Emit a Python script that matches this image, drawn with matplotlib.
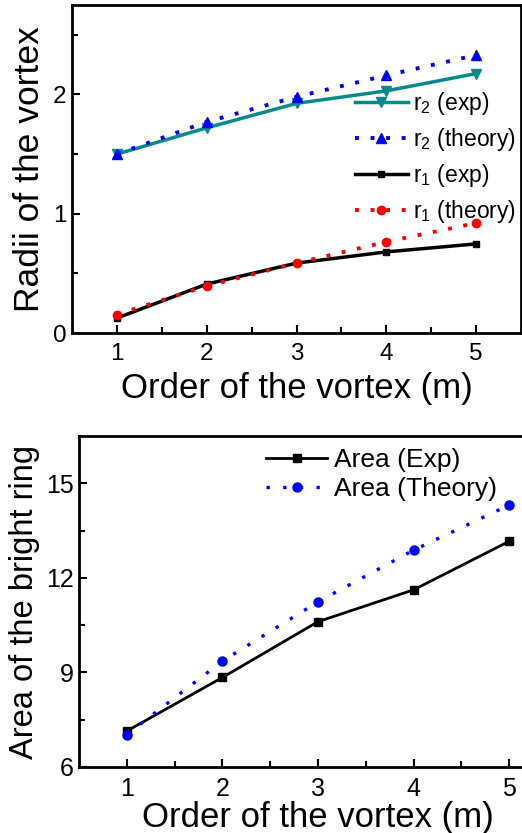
import matplotlib
matplotlib.use("Agg")
import matplotlib.pyplot as plt

plt.rcParams['font.family'] = ['Liberation Sans', 'DejaVu Sans']
plt.rcParams['mathtext.fontset'] = 'custom'
plt.rcParams['mathtext.rm'] = 'Liberation Sans'

# vortex order
m = [1, 2, 3, 4, 5]

# radii (top panel)
r2_exp = [1.50, 1.72, 1.925, 2.03, 2.175]
r2_theory = [1.50, 1.77, 1.98, 2.16, 2.33]
r1_exp = [0.125, 0.41, 0.586, 0.68, 0.747]
r1_theory = [0.155, 0.394, 0.586, 0.764, 0.922]

# bright ring area (bottom panel)
area_exp = [7.14, 8.84, 10.61, 11.62, 13.16]
area_theory = [7.03, 9.36, 11.24, 12.88, 14.31]

W, H = 522, 833
fig = plt.figure(figsize=(W / 100, H / 100), dpi=100)


def style_axes(ax, fs):
    for s in ax.spines.values():
        s.set_linewidth(2)
    ax.tick_params(which='both', direction='in', width=1.5, labelsize=fs, pad=4)
    ax.tick_params(axis='x', which='both', pad=7)
    ax.tick_params(which='major', length=6)
    ax.tick_params(which='minor', length=4)
    ax.tick_params(top=False, right=False, which='both')


# ---- top panel: radii ----
ax1 = fig.add_axes([72 / W, (H - 333) / H, 449 / W, 328 / H])
ax1.plot(m, r2_exp, '-', color='#088a8a', lw=2.5, marker='v', ms=7,
         label=r'r$_2$ (exp)')
ax1.plot(m, r2_theory, linestyle=(0, (1, 3)), color='#0000ff', lw=2.8,
         marker='^', ms=7, label=r'r$_2$ (theory)')
ax1.plot(m, r1_exp, '-', color='black', lw=2.5, marker='s', ms=5,
         label=r'r$_1$ (exp)')
ax1.plot(m, r1_theory, linestyle=(0, (1, 3)), color='#ff0000', lw=2.8,
         marker='o', ms=6, label=r'r$_1$ (theory)')
ax1.set_xlim(0.5, 5.5)
ax1.set_ylim(0, 2.75)
ax1.set_xticks(m)
ax1.set_xticks([1.5, 2.5, 3.5, 4.5], minor=True)
ax1.set_yticks([0, 1, 2])
ax1.set_yticks([0.5, 1.5, 2.5], minor=True)
style_axes(ax1, 17.5)
ax1.set_xlabel('Order of the vortex (m)', fontsize=25, labelpad=5)
ax1.set_ylabel('Radii of the vortex', fontsize=25.5, labelpad=5)
ax1.legend(loc='upper left', bbox_to_anchor=(0.61, 0.77), frameon=False,
           fontsize=16.5, handlelength=2.3, handletextpad=0.25,
           labelspacing=0.4, numpoints=1, borderaxespad=0)

# ---- bottom panel: area ----
ax2 = fig.add_axes([79 / W, (H - 767) / H, 478 / W, 331 / H])
ax2.plot(m, area_exp, '-', color='black', lw=2, marker='s', ms=5.5,
         label='Area (Exp)')
ax2.plot(m, area_theory, linestyle=(0, (1, 4)), color='#0000ff', lw=2.4,
         marker='o', ms=6.5, label='Area (Theory)')
ax2.set_xlim(0.5, 5.5)
ax2.set_ylim(6, 16.5)
ax2.set_xticks(m)
ax2.set_xticks([1.5, 2.5, 3.5, 4.5], minor=True)
ax2.set_yticks([6, 9, 12, 15])
ax2.set_yticks([7.5, 10.5, 13.5], minor=True)
style_axes(ax2, 18)
ax2.set_xlabel('Order of the vortex (m)', fontsize=25, labelpad=0)
ax2.set_ylabel('Area of the bright ring', fontsize=23.5, labelpad=4)
ax2.legend(loc='upper left', bbox_to_anchor=(0.37, 0.995), frameon=False,
           fontsize=19, handlelength=2.3, handletextpad=0.27,
           labelspacing=0.2, numpoints=1, borderaxespad=0)

fig.savefig('out.png', dpi=100)
